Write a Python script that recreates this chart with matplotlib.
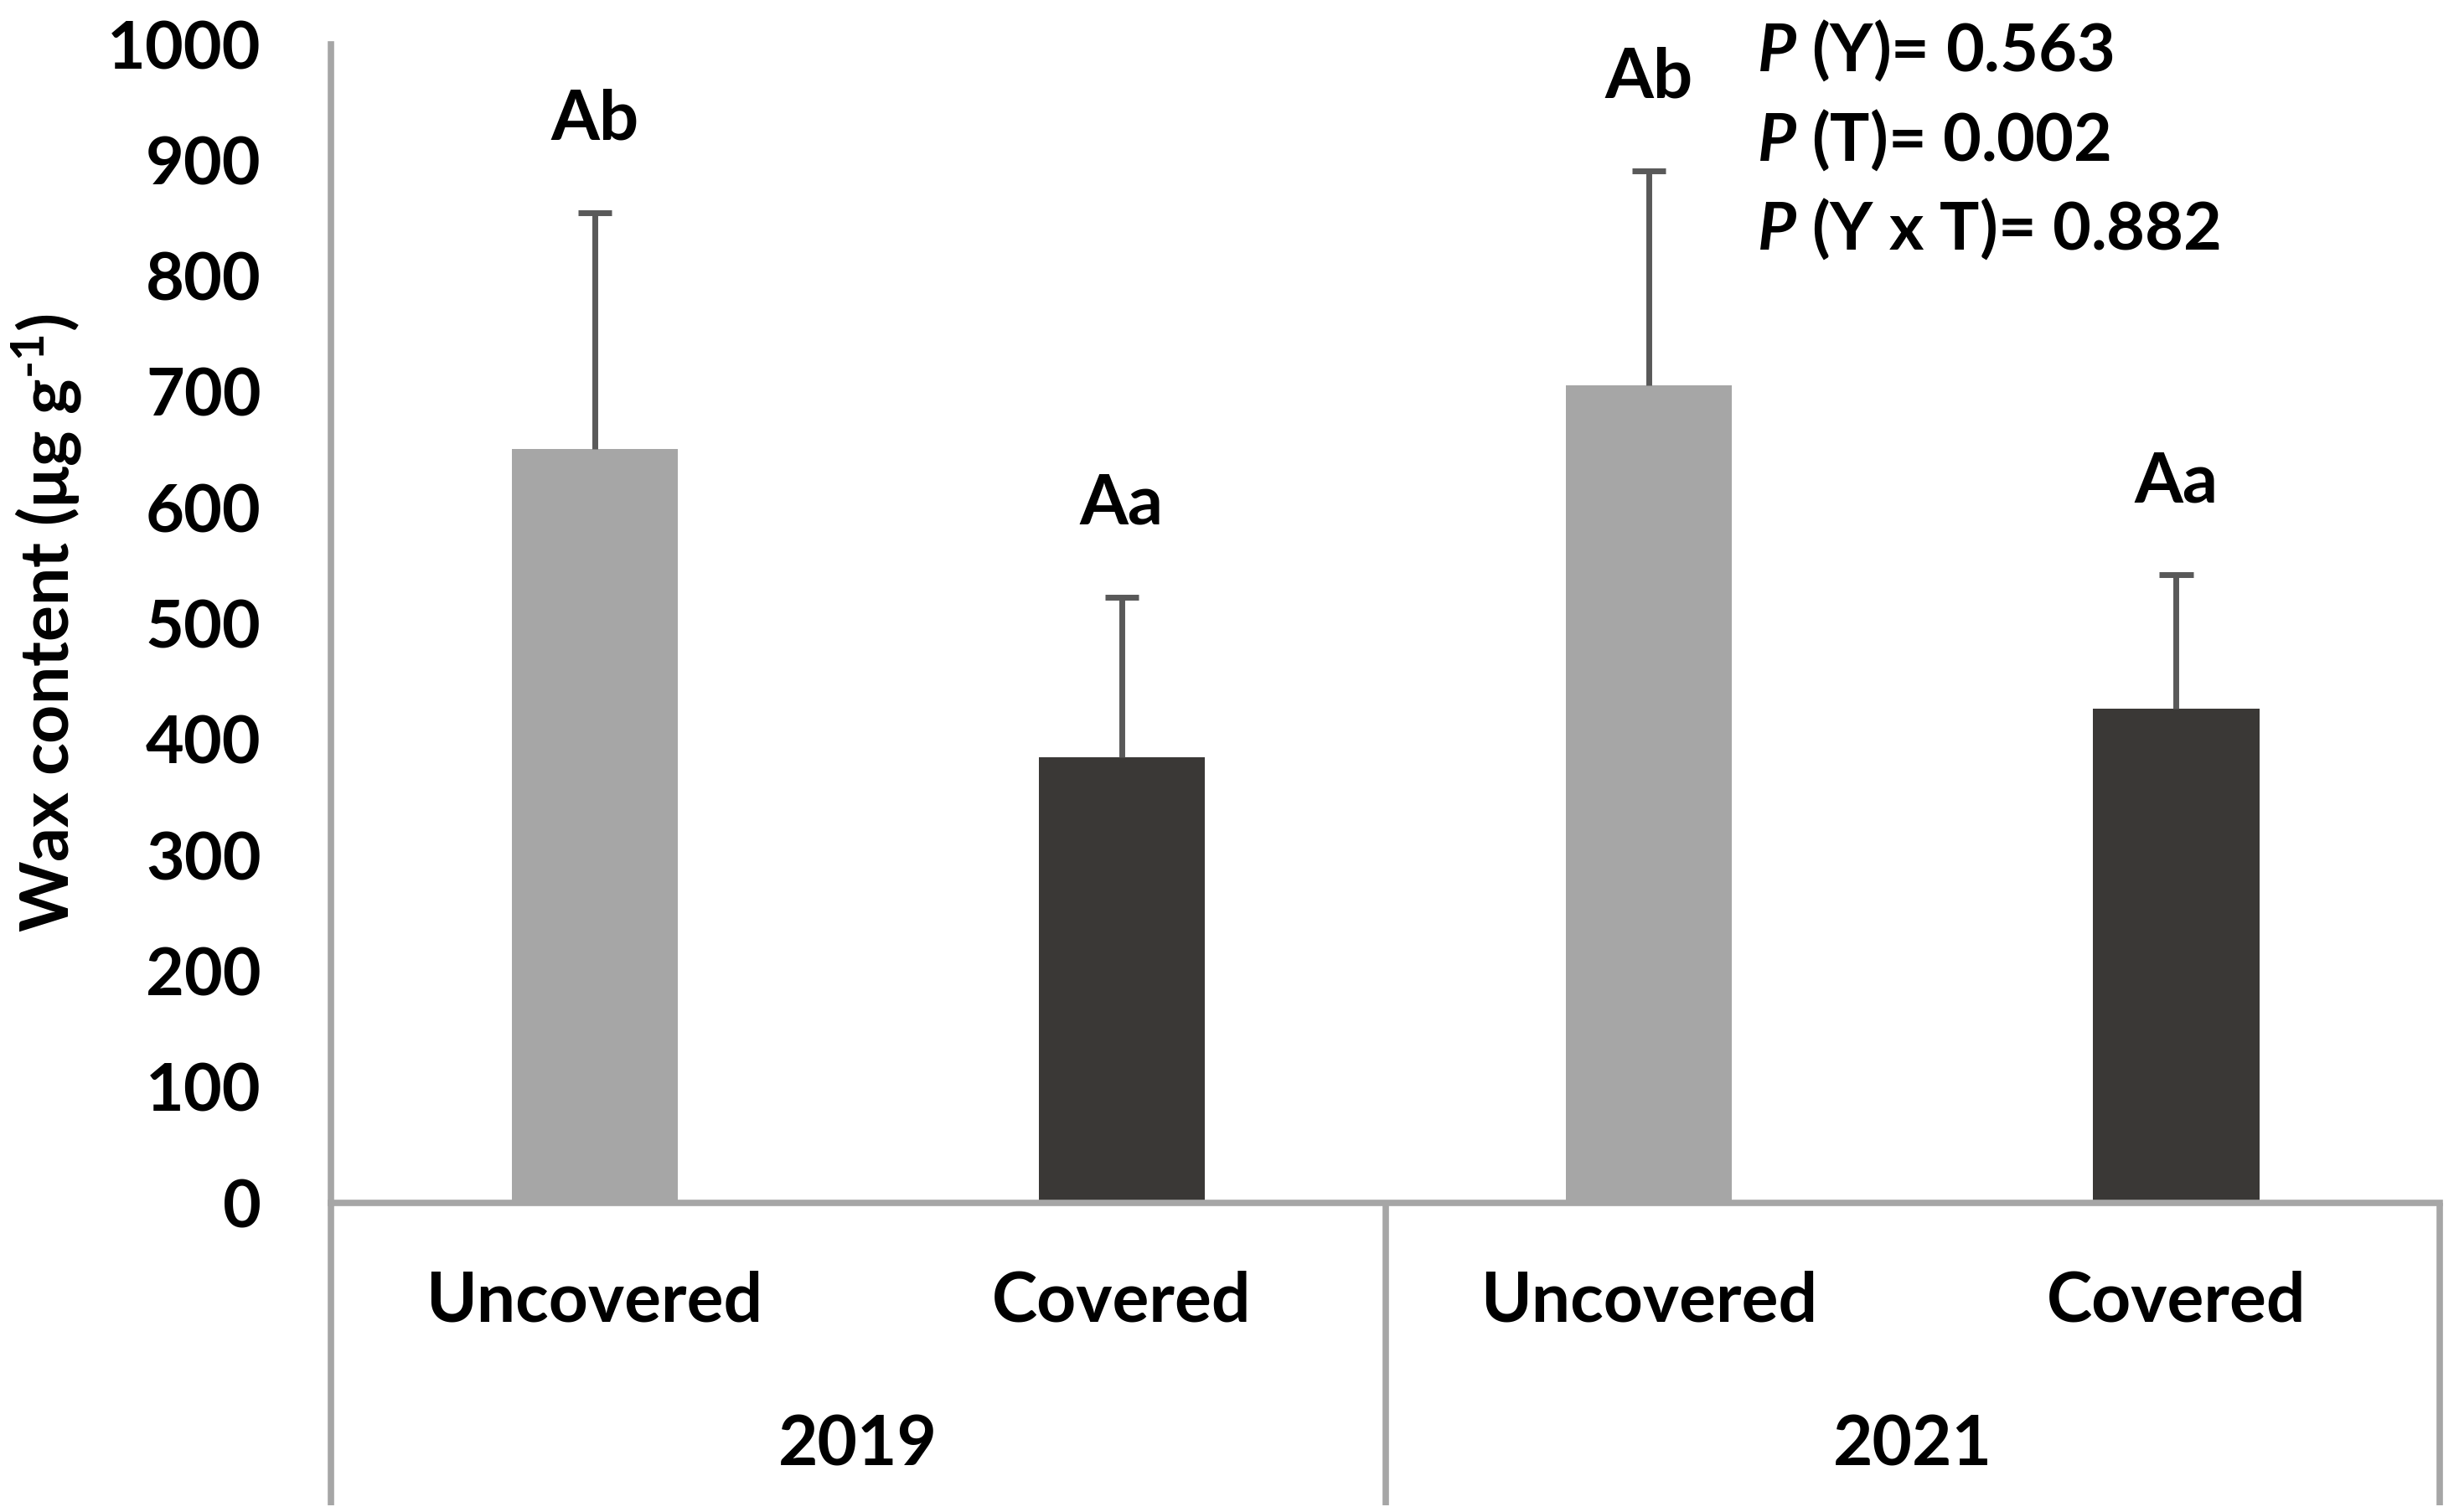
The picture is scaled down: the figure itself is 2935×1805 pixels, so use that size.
import numpy as np
import matplotlib
matplotlib.use('Agg')
import matplotlib.pyplot as plt

# values (wax content, ug/g)
years = ['2019', '2021']
treatments = ['Uncovered', 'Covered', 'Uncovered', 'Covered']
wax_mean = [651, 385, 706, 427]
wax_sd = [204, 138, 185, 115]
letters = ['Ab', 'Aa', 'Ab', 'Aa']
p_text = ['(Y)= 0.563', '(T)= 0.002', '(Y x T)= 0.882']

bar_colors = ['#a6a6a6', '#3a3836', '#a6a6a6', '#3a3836']
axis_gray = '#a6a6a6'
err_gray = '#595959'
fs = 57

plt.rcParams['font.family'] = ['Lato', 'DejaVu Sans']
plt.rcParams['font.weight'] = 'bold'
plt.rcParams['mathtext.fontset'] = 'custom'
plt.rcParams['mathtext.rm'] = 'Lato:bold'
plt.rcParams['mathtext.bf'] = 'Lato:bold'
plt.rcParams['mathtext.it'] = 'Lato:italic:bold'


def main():
    fig = plt.figure(figsize=(29.35, 18.05), dpi=100)
    ax = fig.add_axes([0.1346, 0.2044, 0.9922 - 0.1346, 0.9706 - 0.2044])

    x = np.arange(len(wax_mean))
    mean = np.array(wax_mean)
    top = mean + np.array(wax_sd)
    ax.bar(x, mean, width=0.315, color=bar_colors, zorder=2)
    # upper-only error bars (stem + cap)
    ax.vlines(x, mean, top, color=err_gray, lw=5, zorder=3)
    ax.hlines(top, x - 0.032, x + 0.032, color=err_gray, lw=5, zorder=3)

    for xi, t, lab in zip(x, top, letters):
        ax.text(xi, t + 80, lab, ha='center', va='center', fontsize=fs + 3, fontweight='bold')

    ax.set_xlim(-0.5, 3.5)
    ax.set_ylim(0, 1000)
    ax.set_yticks(np.arange(0, 1001, 100))
    ax.tick_params(axis='y', length=0, pad=60, labelsize=fs)
    ax.set_xticks([])

    for side in ['top', 'right']:
        ax.spines[side].set_visible(False)
    for side in ['left', 'bottom']:
        ax.spines[side].set_color(axis_gray)
        ax.spines[side].set_linewidth(5.5)

    # category axis: treatment row, year row and separators
    trans = ax.get_xaxis_transform()
    for xi, t in zip(x, treatments):
        ax.text(xi, -0.085, t, transform=trans, ha='center', va='center', fontsize=fs + 2, fontweight='bold')
    for i, yr in enumerate(years):
        ax.text(2 * i + 0.5, -0.21, yr, transform=trans, ha='center', va='center', fontsize=fs + 2, fontweight='bold')
    for xs in [-0.5, 1.5, 3.5]:
        ax.plot([xs, xs], [0, -0.261], transform=trans, color=axis_gray, lw=5.5,
                clip_on=False, solid_capstyle='butt')

    fig.text(56 / 2935, 1 - 744 / 1805, r'Wax content (μg g$^{\text{-1}}$)',
             rotation=90, ha='center', va='center', fontsize=fs + 1, fontweight='bold')

    for i, s in enumerate(p_text):
        fig.text(2097 / 2935, 1 - (85 + 106.5 * i) / 1805, r'$\mathit{P}$ ' + s,
                 ha='left', va='baseline', fontsize=fs, fontweight='bold')

    fig.savefig('out.png', dpi=100, facecolor='white')


if __name__ == '__main__':
    main()
